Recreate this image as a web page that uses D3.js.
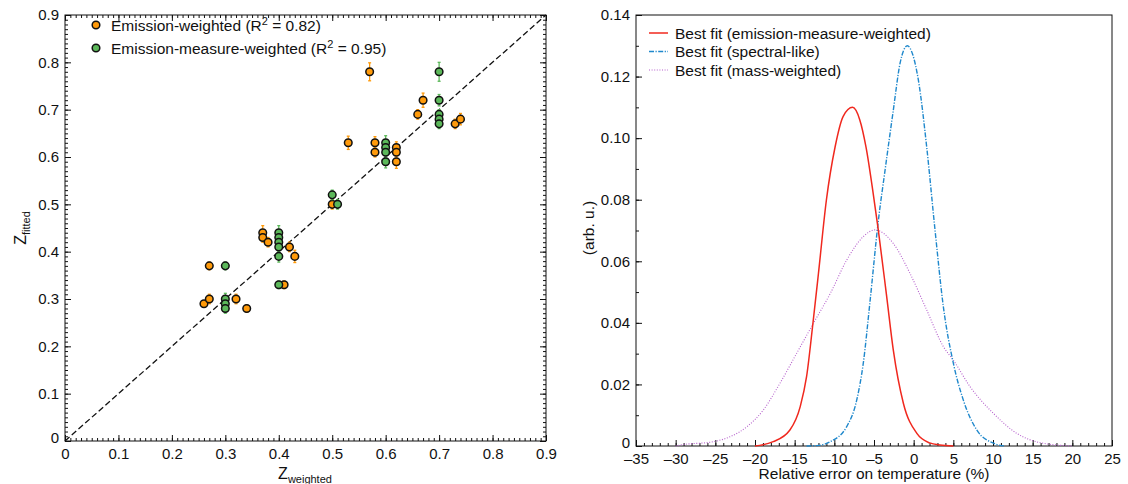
<!DOCTYPE html>
<html><head><meta charset="utf-8">
<script src="https://cdn.jsdelivr.net/npm/d3@7"></script>
<style>
body{margin:0;background:#fff;}
svg text{font-family:"Liberation Sans",Arial,Helvetica,sans-serif;fill:#111;}
</style></head>
<body><svg id="c" width="1128" height="484"></svg>
<script>
// ---------- Data: left panel ----------
const emX   = [0.26,0.27,0.27,0.32,0.34,0.37,0.37,0.38,0.42,0.43,0.41,0.50,0.53,0.57,0.58,0.58,0.62,0.62,0.62,0.66,0.67,0.73,0.74];
const emY   = [0.29,0.30,0.37,0.30,0.28,0.44,0.43,0.42,0.41,0.39,0.33,0.50,0.63,0.78,0.63,0.61,0.62,0.61,0.59,0.69,0.72,0.67,0.68];
const emErr = [0.005,0.01,0.008,0.01,0.008,0.015,0.01,0.01,0.01,0.013,0.008,0.01,0.014,0.019,0.013,0.01,0.012,0.01,0.014,0.01,0.015,0.01,0.012];
const emmX   = [0.30,0.30,0.30,0.30,0.40,0.40,0.40,0.40,0.40,0.40,0.50,0.51,0.60,0.60,0.60,0.60,0.70,0.70,0.70,0.70,0.70];
const emmY   = [0.37,0.30,0.29,0.28,0.44,0.43,0.42,0.41,0.39,0.33,0.52,0.50,0.63,0.62,0.61,0.59,0.78,0.72,0.69,0.68,0.67];
const emmErr = [0.008,0.012,0.01,0.01,0.015,0.01,0.01,0.01,0.012,0.008,0.01,0.01,0.015,0.01,0.01,0.013,0.02,0.012,0.01,0.01,0.01];
const leftTicks = [0,0.1,0.2,0.3,0.4,0.5,0.6,0.7,0.8,0.9];
const identityLine = [0,0.9];

// ---------- Data: right panel ----------
const redX = [-20,-19.4,-17.7,-15.6,-14.3,-13.5,-12.7,-12.0,-11.0,-9.9,-8.9,-7.7,-6.8,-6.0,-5.1,-4.46,-3.4,-2.57,-1.3,0.4,2.0,3.3,5.0];
const redY = [0,0.0002,0.0014,0.0052,0.0128,0.0225,0.0398,0.0561,0.0799,0.0972,0.1070,0.1100,0.1060,0.0970,0.0820,0.0702,0.0485,0.0312,0.0139,0.0041,0.0010,0.0003,0];
const blueX = [-13.5,-12,-10.5,-8.44,-7.18,-6.35,-5.5,-4.46,-3.6,-2.57,-1.7,-0.8,-0.1,0.59,1.64,2.69,3.74,5.0,6.26,7.95,10.05,11.5];
const blueY = [0,0.0002,0.0014,0.0063,0.0149,0.0269,0.0470,0.0730,0.0897,0.1090,0.1245,0.1300,0.1270,0.1189,0.0972,0.0702,0.0453,0.0269,0.0149,0.0052,0.0009,0];
const purpleX = [-30,-29.45,-25.25,-23.15,-21.0,-18.95,-16.85,-14.75,-12.65,-10.5,-8.44,-6.35,-4.9,-2.57,-0.47,1.64,3.74,5.0,7.1,10.05,13.0,16.3,20];
const purpleY = [0,0.0003,0.0014,0.0030,0.0063,0.0117,0.0204,0.0301,0.0398,0.0496,0.0604,0.0680,0.0702,0.0658,0.0561,0.0442,0.0323,0.0279,0.0193,0.0106,0.0041,0.0009,0];
const rightXTicks = [-35,-30,-25,-20,-15,-10,-5,0,5,10,15,20,25];
const rightYTicks = [0,0.02,0.04,0.06,0.08,0.10,0.12,0.14];

const svg = d3.select("#c");
const FS = 15;     // tick labels
const LFS = 15.5;  // legend / titles

function subLabel(g, x, y, main, sub, rotate){
  const t = g.append("text").attr("text-anchor","middle").attr("font-size",16)
    .attr("transform", rotate ? `translate(${x},${y}) rotate(-90)` : `translate(${x},${y})`);
  t.append("tspan").text(main);
  t.append("tspan").attr("font-size",11).attr("dy",4).text(sub);
}

function drawAxes(g, xs, ys, W, H, xMaj, xMin, yMaj, yMin, xFmt, yFmt, allSides){
  const clean = sel => { sel.select(".domain").remove(); sel.selectAll("text").attr("font-size",FS).attr("font-family","Liberation Sans, Arial, sans-serif"); sel.selectAll("line").attr("stroke","#111"); };
  g.append("g").attr("transform",`translate(0,${H})`).call(d3.axisBottom(xs).tickValues(xMin).tickSize(-3).tickFormat("")).call(clean);
  g.append("g").attr("transform",`translate(0,${H})`).call(d3.axisBottom(xs).tickValues(xMaj).tickSize(-6).tickPadding(7).tickFormat(xFmt)).call(clean);
  g.append("g").call(d3.axisLeft(ys).tickValues(yMin).tickSize(-3).tickFormat("")).call(clean);
  const yl = g.append("g").call(d3.axisLeft(ys).tickValues(yMaj).tickSize(-6).tickPadding(6).tickFormat(yFmt)).call(clean);
  // lift the "0" label slightly so it does not touch the first x label
  yl.selectAll(".tick").filter(d=>d===0).select("text").attr("dy","0.1em");
  if(allSides){
    g.append("g").call(d3.axisTop(xs).tickValues(xMin).tickSize(-3).tickFormat("")).call(clean);
    g.append("g").call(d3.axisTop(xs).tickValues(xMaj).tickSize(-6).tickFormat("")).call(clean);
    g.append("g").attr("transform",`translate(${W},0)`).call(d3.axisRight(ys).tickValues(yMin).tickSize(-3).tickFormat("")).call(clean);
    g.append("g").attr("transform",`translate(${W},0)`).call(d3.axisRight(ys).tickValues(yMaj).tickSize(-6).tickFormat("")).call(clean);
  }
  g.append("rect").attr("width",W).attr("height",H).attr("fill","none").attr("stroke","#111").attr("stroke-width",1);
}

// ---------- Left panel ----------
{
  const L = {x:65, y:15, w:481, h:426};
  const g = svg.append("g").attr("transform",`translate(${L.x},${L.y})`);
  const x = d3.scaleLinear().domain([0,0.9]).range([0,L.w]);
  const y = d3.scaleLinear().domain([0,0.9]).range([L.h,0]);
  const minor = d3.range(0,91).map(i=>i/100);
  const fmt = d => d===0 ? "0" : d3.format(".1f")(d);
  drawAxes(g,x,y,L.w,L.h,leftTicks,minor,leftTicks,minor,fmt,fmt,true);

  g.append("line").attr("x1",x(identityLine[0])).attr("y1",y(identityLine[0]))
    .attr("x2",x(identityLine[1])).attr("y2",y(identityLine[1]))
    .attr("stroke","#111").attr("stroke-width",1.3).attr("stroke-dasharray","6,3");

  const series = [
    {xs:emX, ys:emY, es:emErr, fill:"#ff9a0a", bar:"#ff9a0a"},
    {xs:emmX, ys:emmY, es:emmErr, fill:"#5cb85a", bar:"#5cb85a"}
  ];
  series.forEach(s=>{
    const pts = s.xs.map((v,i)=>({x:v,y:s.ys[i],e:s.es[i]}));
    const eg = g.append("g");
    pts.forEach(p=>{
      eg.append("line").attr("x1",x(p.x)).attr("x2",x(p.x)).attr("y1",y(p.y-p.e)).attr("y2",y(p.y+p.e)).attr("stroke",s.bar).attr("stroke-width",1.3);
      [p.y-p.e,p.y+p.e].forEach(v=>eg.append("line").attr("x1",x(p.x)-1.5).attr("x2",x(p.x)+1.5).attr("y1",y(v)).attr("y2",y(v)).attr("stroke",s.bar).attr("stroke-width",1.3));
    });
    g.append("g").selectAll("circle").data(pts).join("circle")
      .attr("cx",d=>x(d.x)).attr("cy",d=>y(d.y)).attr("r",3.8)
      .attr("fill",s.fill).attr("stroke","#111").attr("stroke-width",1.5);
  });

  // legend
  const leg = [
    {fill:"#ff9a0a", a:"Emission-weighted (R", b:" = 0.82)"},
    {fill:"#5cb85a", a:"Emission-measure-weighted (R", b:" = 0.95)"}
  ];
  leg.forEach((d,i)=>{
    const yy = 25 + i*23;
    svg.append("circle").attr("cx",96).attr("cy",yy).attr("r",3.8).attr("fill",d.fill).attr("stroke","#111").attr("stroke-width",1.5);
    const t = svg.append("text").attr("x",111).attr("y",yy+5.5).attr("font-size",LFS);
    t.append("tspan").text(d.a);
    t.append("tspan").attr("font-size",11).attr("dy",-6).text("2");
    t.append("tspan").attr("dy",6).text(d.b);
  });

  subLabel(svg, 305, 479, "Z", "weighted", false);
  subLabel(svg, 26, 228, "Z", "fitted", true);
}

// ---------- Right panel ----------
{
  const R = {x:636, y:15, w:476, h:431};
  const g = svg.append("g").attr("transform",`translate(${R.x},${R.y})`);
  const x = d3.scaleLinear().domain([-35,25]).range([0,R.w]);
  const y = d3.scaleLinear().domain([0,0.14]).range([R.h,0]);
  const xMinor = d3.range(-35,26,1);
  const yMinor = d3.range(0,15).map(i=>i/100);
  const xFmt = d => d<0 ? "\u2013"+Math.abs(d) : String(d);
  const yFmt = d => d===0 ? "0" : d3.format(".2f")(d);
  drawAxes(g,x,y,R.w,R.h,rightXTicks,xMinor,rightYTicks,yMinor,xFmt,yFmt,false);

  const line = d3.line().x(d=>x(d[0])).y(d=>y(d[1])).curve(d3.curveMonotoneX);
  const curves = [
    {xs:purpleX, ys:purpleY, color:"#b55fcc", w:1.1, dash:"1,1.6"},
    {xs:blueX, ys:blueY, color:"#1f88cc", w:1.4, dash:"5,1.5,1.2,1.5"},
    {xs:redX, ys:redY, color:"#f0281e", w:1.5, dash:null}
  ];
  curves.forEach(c=>{
    g.append("path").datum(c.xs.map((v,i)=>[v,c.ys[i]])).attr("d",line)
      .attr("fill","none").attr("stroke",c.color).attr("stroke-width",c.w)
      .attr("stroke-dasharray",c.dash);
  });

  const leg = [
    {t:"Best fit (emission-measure-weighted)", color:"#f0281e", w:1.5, dash:null},
    {t:"Best fit (spectral-like)", color:"#1f88cc", w:1.4, dash:"5,1.5,1.2,1.5"},
    {t:"Best fit (mass-weighted)", color:"#b55fcc", w:1.1, dash:"1,1.6"}
  ];
  leg.forEach((d,i)=>{
    const yy = 33 + i*18.5;
    svg.append("line").attr("x1",649).attr("x2",668).attr("y1",yy).attr("y2",yy)
      .attr("stroke",d.color).attr("stroke-width",d.w).attr("stroke-dasharray",d.dash);
    svg.append("text").attr("x",675).attr("y",yy+5.5).attr("font-size",LFS).text(d.t);
  });

  svg.append("text").attr("font-size",LFS).attr("text-anchor","middle")
    .attr("transform","translate(594,228) rotate(-90)").text("(arb. u.)");
  svg.append("text").attr("font-size",LFS).attr("text-anchor","middle")
    .attr("x",874).attr("y",479).text("Relative error on temperature (%)");
}
</script></body></html>
